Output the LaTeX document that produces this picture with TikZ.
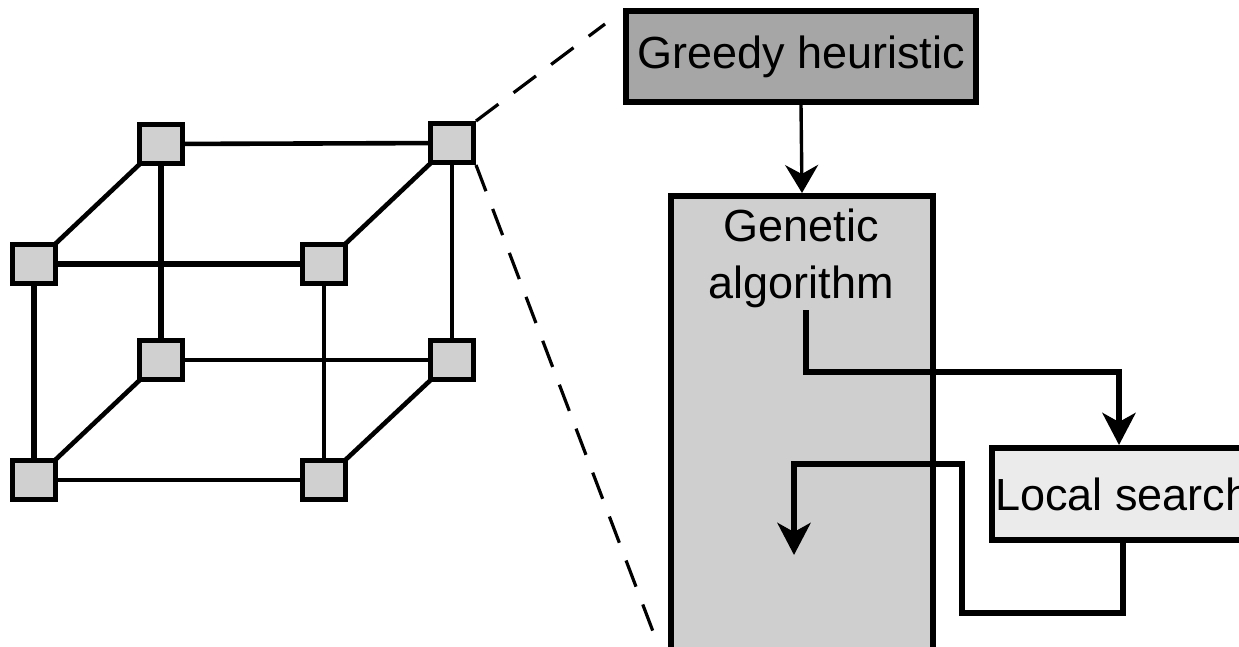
\documentclass[tikz,border=0pt]{standalone}
\usepackage{fontspec}
\setmainfont{Liberation Sans}
\usetikzlibrary{arrows.meta}

\definecolor{vertexfill}{HTML}{D0D0D0}
\definecolor{greedyfill}{HTML}{A6A6A6}
\definecolor{gafill}{HTML}{CFCFCF}
\definecolor{lsfill}{HTML}{EBEBEB}

\tikzset{
  vertex/.style={draw, line width=5pt, fill=vertexfill, rectangle,
    minimum width=43pt, minimum height=39pt, inner sep=0pt},
  edge/.style={line width=4.6pt},
  heavyedge/.style={line width=5.6pt},
  zoomline/.style={line width=3.2pt, dash pattern=on 28pt off 19pt},
  bigtext/.style={font=\fontsize{45}{57}\selectfont},
  greedybox/.style={draw, line width=5.5pt, fill=greedyfill, rectangle,
    minimum width=350pt, minimum height=91pt, inner sep=0pt, bigtext},
  gabox/.style={draw, line width=6pt, fill=gafill, rectangle,
    minimum width=262pt, minimum height=520pt, inner sep=0pt, anchor=north west},
  lsbox/.style={draw, line width=6pt, fill=lsfill, rectangle, anchor=west,
    minimum height=92pt, inner xsep=3pt, inner ysep=0pt, bigtext},
  thinarrow/.style={line width=3.4pt,
    -{Stealth[length=28pt, width=33pt, inset=9pt]}},
  flowarrow/.style={line width=6pt, line join=miter,
    -{Stealth[length=32pt, width=33pt, inset=9pt]}},
}

\begin{document}
\begin{tikzpicture}[x=1pt, y=-1pt]
\useasboundingbox (0,0) rectangle (1239,646);
\clip (0,0) rectangle (1239,646);

% ---- the cube of processors ----
\coordinate (pA) at (161,144);
\coordinate (pB) at (452,143);
\coordinate (pC) at (34,264);
\coordinate (pD) at (324,264);
\coordinate (pE) at (161,360);
\coordinate (pF) at (452,360);
\coordinate (pG) at (34,480);
\coordinate (pH) at (324,480);

\draw[edge] (pA) -- (pB);
\draw[edge] (pA) -- (pC);
\draw[heavyedge] (pA) -- (pE);
\draw[edge] (pB) -- (pD);
\draw[edge] (pB) -- (pF);
\draw[heavyedge] (pC) -- (pD);
\draw[heavyedge] (pC) -- (pG);
\draw[edge] (pD) -- (pH);
\draw[edge] (pE) -- (pF);
\draw[edge] (pE) -- (pG);
\draw[edge] (pF) -- (pH);
\draw[edge] (pG) -- (pH);

\foreach \v in {A,B,C,D,E,F,G,H}
  \node[vertex] (n\v) at (p\v) {};

% ---- zoom lines from one processor ----
\coordinate (zoomtop) at (605,24);
\coordinate (zoombot) at (657,642);
\draw[zoomline] (nB.north east) -- (zoomtop);
\draw[zoomline] (nB.south east) -- (zoombot);

% ---- the hybrid algorithm on that processor ----
\node[greedybox] (gh) at (801,56.5) {Greedy heuristic};
\node[gabox] (ga) at (668,193) {};
\node[bigtext, align=center, anchor=north] (gatext) at (801,205)
  {Genetic\\algorithm};
\node[lsbox] (ls) at (989,494) {Local search};

\coordinate (gaout) at (806,310);
\coordinate (gain)  at (794,555);
\coordinate (turnA) at (1119,372);
\coordinate (retA)  at (962,613);
\coordinate (retB)  at (794,464);

\draw[thinarrow] (gh.south) -- (ga.north);
\draw[flowarrow] (gaout) |- (turnA) -- (turnA |- ls.north);
\draw[flowarrow] (ls.south) |- (retA) |- (retB) -- (gain);
\end{tikzpicture}
\end{document}
